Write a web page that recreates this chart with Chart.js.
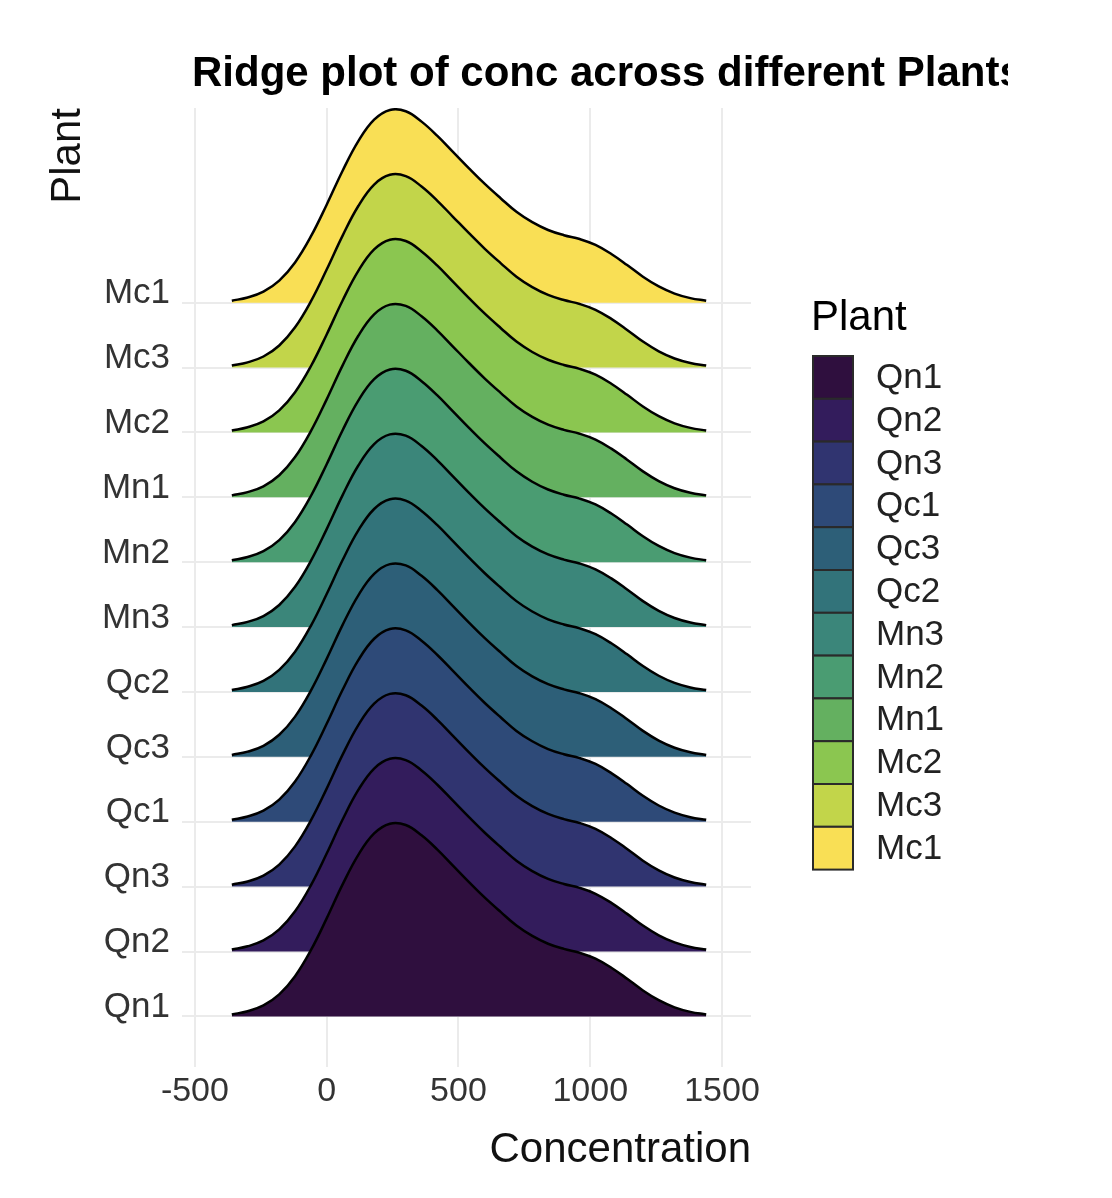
<!DOCTYPE html>
<html>
<head>
<meta charset="utf-8">
<script src="https://cdn.jsdelivr.net/npm/chart.js@4.4.1/dist/chart.umd.min.js"></script>
<style>
  html, body { margin: 0; padding: 0; background: #ffffff; }
  #wrap { width: 1008px; height: 1198px; position: relative; overflow: hidden; background: #ffffff; }
</style>
</head>
<body>
<div id="wrap"><canvas id="c"></canvas></div>
<script>
// ---- data ----
// Plants, bottom row first
const plants = ['Qn1', 'Qn2', 'Qn3', 'Qc1', 'Qc3', 'Qc2', 'Mn3', 'Mn2', 'Mn1', 'Mc2', 'Mc3', 'Mc1'];
const plantColors = ['#2F0F3E', '#331C5C', '#303470', '#2E4A78', '#2D5F78', '#32737A',
                     '#3B867A', '#4A9C72', '#64B060', '#8BC650', '#C2D54A', '#F9DF55'];
// Concentration grid where ridge heights were read
const concGrid = [-360, -300, -240, -180, -120, -60, 0, 60, 120, 180, 240, 300, 360, 420, 480,
                  540, 600, 660, 720, 780, 840, 900, 960, 1020, 1080, 1140, 1200, 1260, 1320, 1380, 1440];
// Ridge height (in row units); every plant shows the same shape
const ridgeHeight = [0.03, 0.08, 0.17, 0.34, 0.62, 1.02, 1.51, 2.03, 2.49, 2.82, 2.97, 2.95, 2.79, 2.57, 2.32,
                     2.07, 1.83, 1.61, 1.40, 1.24, 1.12, 1.04, 0.98, 0.89, 0.75, 0.58, 0.40, 0.25, 0.14, 0.07, 0.03];
const xTickValues = [-500, 0, 500, 1000, 1500];
const chartTitle = 'Ridge plot of conc across different Plants';
const xTitle = 'Concentration';
const yTitle = 'Plant';
const legendTitle = 'Plant';

// ---- chart ----
const FONT = "'Liberation Sans', Arial, Helvetica, sans-serif";

const datasets = plants.map((p, i) => ({
  label: p,
  data: concGrid.map((x, j) => ({ x: x, y: i + ridgeHeight[j] })),
  borderColor: '#000000',
  borderWidth: 2.5,
  backgroundColor: plantColors[i],
  fill: { value: i },
  pointRadius: 0,
  pointHoverRadius: 0,
  tension: 0.4
}));

const titlePlugin = {
  id: 'plotTitle',
  afterDraw(chart) {
    const ctx = chart.ctx;
    ctx.save();
    ctx.font = 'bold 42px ' + FONT;
    ctx.fillStyle = '#000000';
    ctx.textAlign = 'left';
    ctx.textBaseline = 'alphabetic';
    ctx.fillText(chartTitle, 192, 86);
    ctx.restore();
  }
};

const legendPlugin = {
  id: 'sideLegend',
  afterDraw(chart) {
    const ctx = chart.ctx;
    ctx.save();
    ctx.fillStyle = '#000000';
    ctx.font = '42px ' + FONT;
    ctx.textAlign = 'left';
    ctx.textBaseline = 'middle';
    ctx.fillText(legendTitle, 811, 318);
    const x0 = 813, y0 = 356, w = 40, h = 42.8;
    chart.data.datasets.forEach((ds, i) => {
      const y = y0 + i * h;
      ctx.fillStyle = ds.backgroundColor;
      ctx.fillRect(x0, y, w, h);
      ctx.strokeStyle = '#2a2a2a';
      ctx.lineWidth = 2;
      ctx.strokeRect(x0, y, w, h);
      ctx.fillStyle = '#222222';
      ctx.font = '35px ' + FONT;
      ctx.fillText(ds.label, 876, y + h / 2 + 1);
    });
    ctx.restore();
  }
};

new Chart(document.getElementById('c'), {
  type: 'line',
  data: { datasets: datasets },
  options: {
    responsive: true,
    maintainAspectRatio: false,
    animation: false,
    layout: { padding: { left: 0, top: 108, right: 257, bottom: 0 } },
    plugins: {
      legend: { display: false },
      tooltip: { enabled: false },
      title: { display: false }
    },
    scales: {
      x: {
        type: 'linear',
        min: -549,
        max: 1610,
        afterBuildTicks(scale) { scale.ticks = xTickValues.map(v => ({ value: v })); },
        afterFit(scale) { scale.height = 131; },
        ticks: {
          autoSkip: false,
          maxRotation: 0,
          padding: 4,
          color: '#333333',
          font: { family: FONT, size: 34 },
          callback: (v) => String(v)
        },
        grid: { color: '#ebebeb', lineWidth: 2, drawTicks: false },
        border: { display: false },
        title: {
          display: true,
          text: xTitle,
          align: 'end',
          color: '#111111',
          font: { family: FONT, size: 42 },
          padding: { top: 0, bottom: 22 }
        }
      },
      y: {
        type: 'linear',
        min: -0.78,
        max: 14.0,
        afterBuildTicks(scale) { scale.ticks = plants.map((p, i) => ({ value: i })); },
        afterFit(scale) { scale.width = 182; },
        ticks: {
          autoSkip: false,
          padding: 12,
          labelOffset: -9,
          color: '#333333',
          font: { family: FONT, size: 35 },
          callback: (v) => plants[v]
        },
        grid: { color: '#ebebeb', lineWidth: 2, drawTicks: false },
        border: { display: false },
        title: {
          display: true,
          text: yTitle,
          align: 'end',
          color: '#111111',
          font: { family: FONT, size: 42 },
          padding: { top: 43, bottom: 0 }
        }
      }
    }
  },
  plugins: [titlePlugin, legendPlugin]
});
</script>
</body>
</html>
